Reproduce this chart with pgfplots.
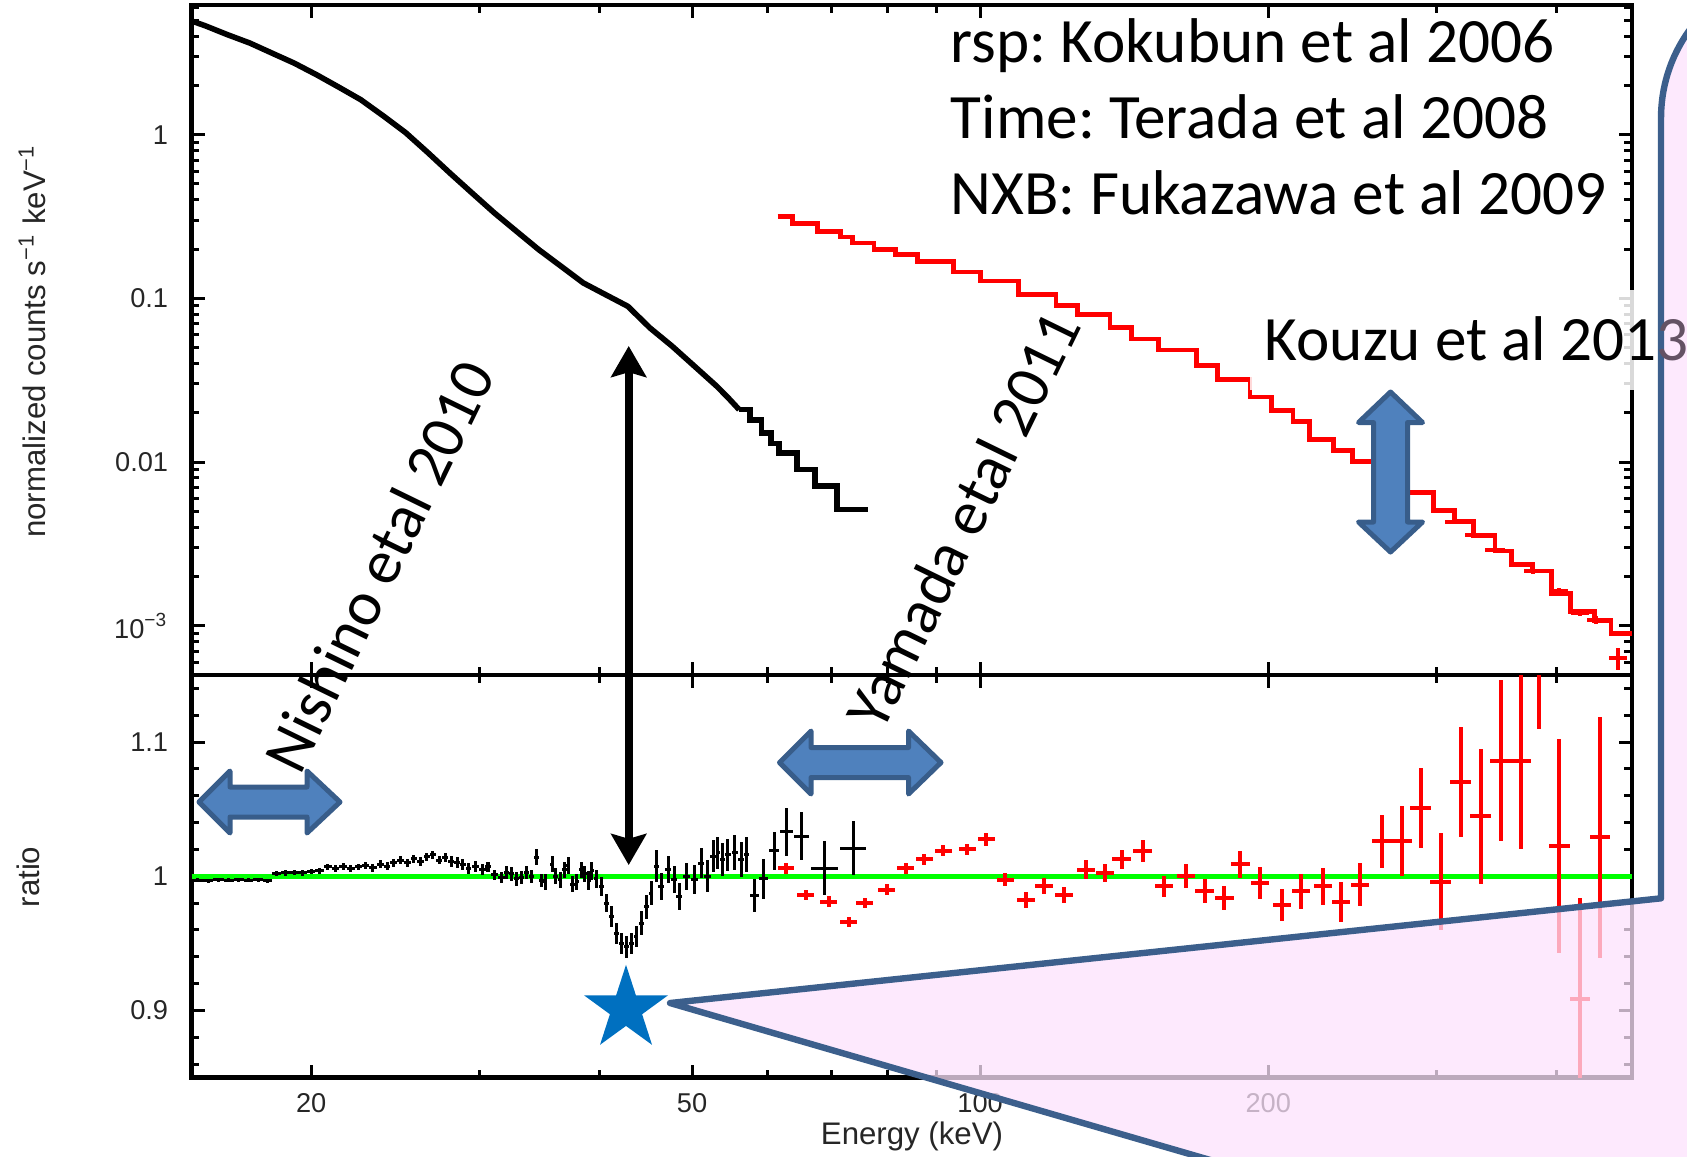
\documentclass[border=0pt]{standalone}
\usepackage{pgfplots}
\pgfplotsset{compat=1.18}
\usepackage{fontspec}
\setmainfont{Liberation Sans}
\newfontfamily\calibri{Carlito}
\usetikzlibrary{arrows.meta}
\definecolor{shapefill}{RGB}{79,129,189}
\definecolor{shapeline}{RGB}{56,93,138}
\definecolor{calloutline}{RGB}{60,95,140}
\definecolor{pinkfill}{RGB}{252,226,252}
\definecolor{starblue}{RGB}{0,112,192}
\definecolor{fitgreen}{RGB}{0,255,0}
\definecolor{undertext}{RGB}{100,82,100}
\frenchspacing

\begin{document}
\begin{tikzpicture}
\path[use as bounding box] (0pt,0pt) rectangle (421.75pt,-289pt);

% ---------------- top panel ----------------
\begin{axis}[scale only axis, width=360.075pt,
  xmode=log, xmin=15, xmax=480,
  axis line style={line width=1.2pt},
  tick style={line width=0.75pt, black},
  major tick length=3.25pt, minor tick length=1.9pt,
  xtick={20,50,100,200}, minor xtick={30,40,60,70,80,90,300,400},
  tick label style={font=\fontsize{6.8}{7}\selectfont, text=black!85},
  yticklabel style={inner sep=0pt, anchor=east, xshift=-5.7pt},
  at={(47.925pt,-1.25pt)}, anchor=north west,
  height=167.5pt, ymode=log, ymin=5e-4, ymax=6.2,
  xticklabels={},
  ytick={1e-3,1e-2,0.1,1}, yticklabels={10\textsuperscript{−3},0.01,0.1,1},
  minor ytick={6e-4,7e-4,8e-4,9e-4,2e-3,3e-3,4e-3,5e-3,6e-3,7e-3,8e-3,9e-3,0.02,0.03,0.04,0.05,0.06,0.07,0.08,0.09,0.2,0.3,0.4,0.5,0.6,0.7,0.8,0.9,2,3,4,5,6}]
\addplot[black, line width=1.4pt, line join=round] table {
15.0 4.95
15.49 4.634
16.35 4.082
17.25 3.631
18.19 3.155
19.19 2.740
20.25 2.326
21.36 1.955
22.53 1.636
23.77 1.306
25.08 1.033
26.46 0.780
27.92 0.583
29.45 0.440
31.08 0.3322
32.78 0.2567
34.58 0.1984
36.49 0.1569
38.49 0.1242
40.61 0.1053
42.84 0.0894
45.19 0.0659
47.68 0.0509
50.29 0.0385
53.07 0.0290
54.5 0.0248
56.0 0.0209
};
\addplot[black, line width=1.4pt, const plot mark left] table {
56.0 0.0209
57.5 0.0180
59.07 0.01505
60.45 0.0130
61.66 0.01136
64.36 0.00899
67.19 0.00711
70.87 0.00512
76.38 0.00512
};
\addplot[red, line width=1.2pt, const plot mark left] table {
61.42 0.3170
63.69 0.2860
67.61 0.2566
71.50 0.2372
73.54 0.2181
77.45 0.1984
81.58 0.1849
85.94 0.1683
93.86 0.1449
100.16 0.1277
109.67 0.1059
120.0 0.0905
126.5 0.0798
136.7 0.0662
143.9 0.0565
153.6 0.0483
168.2 0.0388
177.1 0.0321
191.4 0.0250
201.6 0.0207
212.3 0.0177
220.8 0.01376
234.0 0.01176
244.9 0.01006
257.9 0.00859
278.8 0.00648
297.4 0.00503
313.3 0.00431
327.8 0.00357
345.2 0.00286
358.9 0.00237
378.0 0.00216
395.5 0.001576
413.9 0.001226
438.8 0.001082
456.2 0.000895
480 0.000895
};
\addplot[red, line width=1pt, only marks, mark=text, text mark={},
  error bars/.cd, x dir=both, x explicit, y dir=both, y explicit,
  error mark=none, error bar style={line width=1pt}]
  table[x index=0, y index=1, x error index=2, y error index=3] {
313.3 0.00431 7 0.0001
327.8 0.00357 7 0.0001
345.2 0.00290 8 0.0001
378.0 0.00216 8 0.00008
402.2 0.00162 9 0.00008
423.6 0.00120 9 0.00006
440.0 0.00108 9 0.00006
464.5 0.000634 10 0.0001
};
\end{axis}

% ---------------- ratio panel ----------------
\begin{axis}[scale only axis, width=360.075pt,
  xmode=log, xmin=15, xmax=480,
  axis line style={line width=1.2pt},
  tick style={line width=0.75pt, black},
  major tick length=3.25pt, minor tick length=1.9pt,
  xtick={20,50,100,200}, minor xtick={30,40,60,70,80,90,300,400},
  tick label style={font=\fontsize{6.8}{7}\selectfont, text=black!85},
  yticklabel style={inner sep=0pt, anchor=east, xshift=-5.7pt},
  xticklabel style={inner sep=0pt, anchor=north, yshift=-3.9pt},
  at={(47.925pt,-168.75pt)}, anchor=north west,
  height=100.625pt, ymin=0.85, ymax=1.15,
  xticklabels={20,50,100,200},
  ytick={0.9,1,1.1}, yticklabels={0.9,1,1.1},
  minor ytick={0.86,0.88,0.92,0.94,0.96,0.98,1.02,1.04,1.06,1.08,1.12,1.14}]
\addplot[fitgreen, line width=1.3pt] coordinates {(15,1) (480,1)};
\addplot[black, line width=0.75pt, only marks, mark=text, text mark={},
  error bars/.cd, x dir=both, x explicit, y dir=both, y explicit,
  error mark=none, error bar style={line width=0.75pt}]
  table[x index=0, y index=1, x error index=2, y error index=3] {
15.2 0.997 0.2 0.0015
15.6 0.9965 0.2 0.0015
16.0 0.9975 0.2 0.0015
16.4 0.997 0.2 0.0015
16.8 0.9975 0.2 0.0015
17.2 0.997 0.2 0.0015
17.6 0.9975 0.2 0.0015
18.0 0.9965 0.2 0.0015
18.4 1.002 0.2 0.002
18.8 1.0025 0.2 0.002
19.2 1.003 0.2 0.002
19.6 1.0025 0.2 0.002
20.0 1.0035 0.2 0.002
20.4 1.004 0.2 0.002
20.8 1.007 0.2 0.0025
21.2 1.006 0.2 0.0025
21.6 1.0075 0.2 0.0025
22.0 1.006 0.2 0.0025
22.4 1.007 0.2 0.0025
22.8 1.008 0.2 0.0025
23.2 1.0065 0.2 0.003
23.6 1.009 0.2 0.003
24.0 1.0075 0.2 0.003
24.4 1.010 0.2 0.003
24.8 1.012 0.2 0.003
25.2 1.010 0.2 0.003
25.6 1.013 0.2 0.003
26.0 1.011 0.2 0.003
26.4 1.0145 0.2 0.003
26.8 1.016 0.2 0.003
27.2 1.012 0.2 0.003
27.6 1.014 0.2 0.003
28.0 1.011 0.2 0.004
28.4 1.010 0.2 0.004
28.8 1.009 0.2 0.004
29.2 1.006 0.2 0.004
29.7 1.0075 0.25 0.004
30.2 1.005 0.25 0.004
30.6 1.007 0.25 0.004
31.1 1.001 0.25 0.004
31.6 0.999 0.25 0.004
32.0 1.003 0.2 0.005
32.4 1.0017 0.2 0.005
32.8 0.998 0.2 0.005
33.2 0.999 0.2 0.005
33.6 1.003 0.2 0.005
34.0 1.000 0.2 0.005
34.4 1.0142 0.2 0.006
34.8 0.997 0.2 0.005
35.1 0.996 0.2 0.006
35.7 1.009 0.2 0.006
36.0 1.000 0.2 0.006
36.4 0.9975 0.2 0.006
36.8 1.005 0.2 0.006
37.1 1.008 0.2 0.006
37.5 0.994 0.2 0.006
37.9 0.996 0.2 0.006
38.3 1.005 0.2 0.006
38.6 1.002 0.2 0.006
39.0 0.997 0.2 0.007
39.3 1.004 0.2 0.007
39.7 0.998 0.2 0.007
40.2 0.9925 0.25 0.007
40.7 0.980 0.25 0.007
41.2 0.970 0.25 0.008
41.7 0.9574 0.25 0.008
42.2 0.950 0.25 0.008
42.7 0.9474 0.25 0.008
43.2 0.950 0.25 0.008
43.7 0.955 0.25 0.008
44.3 0.965 0.25 0.009
44.8 0.9774 0.25 0.009
45.3 0.9875 0.25 0.009
45.9 1.0075 0.25 0.012
46.4 0.9925 0.3 0.01
47.2 1.005 0.35 0.01
47.9 0.9975 0.35 0.01
48.5 0.985 0.35 0.01
49.3 1.000 0.4 0.01
50.3 0.9975 0.4 0.011
51.1 1.0098 0.4 0.011
51.9 1.000 0.4 0.012
52.6 1.015 0.35 0.012
53.2 1.0175 0.3 0.012
53.8 1.0125 0.3 0.012
54.5 1.016 0.35 0.012
55.4 1.0175 0.4 0.013
56.3 1.0125 0.4 0.013
57.0 1.016 0.4 0.013
58.1 0.9857 0.6 0.0125
59.4 0.998 0.6 0.015
60.9 1.019 0.8 0.014
62.8 1.033 1.0 0.018
65.1 1.030 1.2 0.018
68.8 1.006 2.2 0.02
73.7 1.021 2.3 0.02
};
\addplot[red, line width=1pt, only marks, mark=text, text mark={},
  error bars/.cd, x dir=both, x explicit, y dir=both, y explicit,
  error mark=none, error bar style={line width=1pt}]
  table[x index=0, y index=1, x error index=2, y error index=3] {
62.66 1.006 1.2 0.004
65.74 0.986 1.3 0.004
69.47 0.981 1.4 0.004
72.89 0.966 1.5 0.004
75.74 0.980 1.5 0.004
79.85 0.990 1.6 0.004
83.57 1.006 1.7 0.004
87.46 1.0125 1.8 0.004
91.54 1.019 1.9 0.004
96.97 1.020 2.0 0.004
101.49 1.0276 2.1 0.005
106.22 0.9975 2.2 0.005
111.71 0.9825 2.4 0.006
116.64 0.9925 2.5 0.006
122.37 0.986 2.6 0.006
129.0 1.005 2.8 0.007
135.0 1.0025 3.0 0.007
140.6 1.0125 3.1 0.007
147.9 1.019 3.3 0.008
155.6 0.9925 3.4 0.008
164.0 1.000 3.6 0.009
171.6 0.9887 3.8 0.009
180.0 0.9837 4.0 0.009
187.1 1.0088 4.1 0.010
196.3 0.995 4.3 0.012
206.9 0.9787 4.6 0.012
216.6 0.9887 4.8 0.013
228.3 0.9925 5.0 0.014
238.4 0.981 5.3 0.015
249.5 0.9937 5.5 0.016
263.0 1.026 6.5 0.020
275.9 1.026 6.8 0.026
288.8 1.051 7.2 0.030
302.9 0.996 7.5 0.036
317.8 1.070 8.0 0.041
333.4 1.0446 8.4 0.050
349.8 1.086 8.8 0.060
367.0 1.086 9.2 0.066
384.1 1.170 9.6 0.060
403.0 1.0226 10.0 0.080
423.8 0.9085 10.5 0.075
444.6 1.029 11.0 0.090
};
\end{axis}

% ---------------- annotations (pixel units, y down) ----------------
\begin{scope}[x=0.25pt, y=-0.25pt]
\clip (0,0) rectangle (1687,1156);
\node[rotate=90, inner sep=0pt, text=black!85, font=\fontsize{7.8}{9}\selectfont] at (32,341) {normalized counts s\textsuperscript{−1} keV\textsuperscript{−1}};
\node[rotate=90, inner sep=0pt, text=black!85, font=\fontsize{7.8}{9}\selectfont] at (28.5,877) {ratio};
\node[inner sep=0pt, text=black!85, font=\fontsize{7.8}{9}\selectfont] at (912,1136) {Energy (keV)};
\fill[white, opacity=0.85] (1250,290) rectangle (1661,390);
\begin{scope}[font=\calibri\fontsize{15.8}{19}\selectfont]
\node[anchor=base west, inner sep=0pt] at (950,62.5) {rsp: Kokubun et al 2006};
\node[anchor=base west, inner sep=0pt] at (950,138.4) {Time: Terada et al 2008};
\node[anchor=base west, inner sep=0pt] at (950,214.3) {NXB: Fukazawa et al 2009};
\node[rotate=64, inner sep=0pt] at (379,566) {Nishino etal 2010};
\node[rotate=64, inner sep=0pt] at (963,520) {Yamada etal 2011};
\end{scope}
\path[fill=pinkfill, fill opacity=0.75, draw=calloutline, line width=1.6pt, line join=round]
  (1661,898.3) -- (670,1003) -- (1661,1291) -- (1661,1400) -- (1900,1400) -- (1900,-32) -- (1811,-32)
  arc[start angle=-90, end angle=-180, radius=150] -- cycle;
\begin{scope}
\clip (0,0) rectangle (1657,1156);
\node[anchor=base west, inner sep=0pt, font=\calibri\fontsize{15.8}{19}\selectfont] at (1264,360) {Kouzu et al 2013};
\end{scope}
\begin{scope}
\clip (1657,0) rectangle (1687,1156);
\node[anchor=base west, inner sep=0pt, text=undertext, font=\calibri\fontsize{15.8}{19}\selectfont] at (1264,360) {Kouzu et al 2013};
\end{scope}
\fill[starblue] (626,964.8) -- (635.9,995.3) -- (668,995.3) -- (642.1,1014.2) -- (652,1044.8)
  -- (626,1025.9) -- (600,1044.8) -- (609.9,1014.2) -- (584,995.3) -- (616.1,995.3) -- cycle;
\draw[line width=2.1pt, {Stealth[length=7.75pt,width=8.75pt,inset=1.2pt]}-{Stealth[length=7.75pt,width=8.75pt,inset=1.2pt]}]
  (628.7,865) -- (628.7,346);
\filldraw[fill=shapefill, draw=shapeline, line width=1.25pt, line join=round] (199,802) -- (230,771) -- (230,787) -- (307,787) -- (307,771) -- (340,802) -- (307,833) -- (307,817) -- (230,817) -- (230,833) -- cycle;
\filldraw[fill=shapefill, draw=shapeline, line width=1.25pt, line join=round] (779.5,762.5) -- (811,731) -- (811,747.5) -- (908.5,747.5) -- (908.5,731) -- (941,762.5) -- (908.5,794) -- (908.5,777.5) -- (811,777.5) -- (811,794) -- cycle;
\filldraw[fill=shapefill, draw=shapeline, line width=1.25pt, line join=round] (1390.5,392) -- (1422.5,422.5) -- (1407.5,422.5) -- (1407.5,522) -- (1422.5,522) -- (1390.5,552) -- (1358.5,522) -- (1373.5,522) -- (1373.5,422.5) -- (1358.5,422.5) -- cycle;
\end{scope}
\end{tikzpicture}
\end{document}
